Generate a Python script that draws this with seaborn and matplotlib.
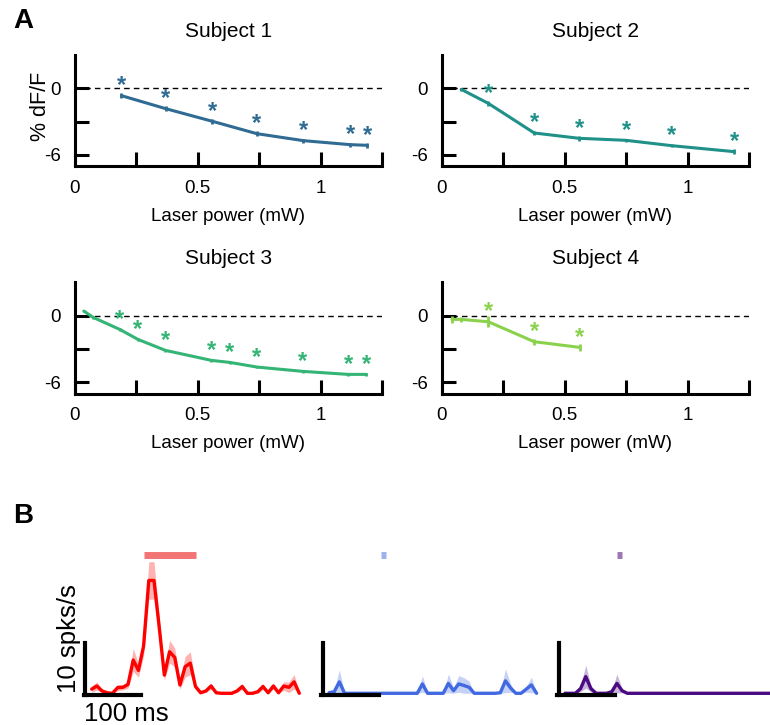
import numpy as np
import pandas as pd
import matplotlib
matplotlib.use("Agg")
import matplotlib.pyplot as plt
import seaborn as sns

# ---------------- Panel A data ----------------
subjects = ["Subject 1", "Subject 2", "Subject 3", "Subject 4"]
colors_A = ["#2f6b93", "#1f9189", "#34b475", "#8bd24c"]

s1_power = [0.19, 0.37, 0.56, 0.74, 0.93, 1.12, 1.19]
s1_dff = [-0.66, -1.83, -2.97, -4.08, -4.71, -5.07, -5.13]
s1_err = [0.2, 0.2, 0.2, 0.2, 0.18, 0.18, 0.2]
s1_sig = [1, 1, 1, 1, 1, 1, 1]

s2_power = [0.08, 0.19, 0.377, 0.56, 0.75, 0.935, 1.19]
s2_dff = [-0.09, -1.35, -4.02, -4.50, -4.68, -5.16, -5.70]
s2_err = [0.15, 0.2, 0.2, 0.2, 0.15, 0.15, 0.2]
s2_sig = [0, 1, 1, 1, 1, 1, 1]

s3_power = [0.037, 0.075, 0.183, 0.257, 0.369, 0.556, 0.63, 0.741, 0.928, 1.112, 1.186]
s3_dff = [0.42, -0.15, -1.23, -2.13, -3.12, -4.02, -4.20, -4.62, -5.01, -5.28, -5.28]
s3_err = [0.1, 0.1, 0.12, 0.12, 0.12, 0.12, 0.1, 0.1, 0.1, 0.1, 0.12]
s3_sig = [0, 0, 1, 1, 1, 1, 1, 1, 1, 1, 1]

s4_power = [0.043, 0.08, 0.19, 0.377, 0.562]
s4_dff = [-0.33, -0.33, -0.54, -2.34, -2.85]
s4_err = [0.33, 0.2, 0.5, 0.27, 0.35]
s4_sig = [0, 0, 1, 1, 1]

x_ticks = [0, 0.25, 0.5, 0.75, 1.0, 1.25]
x_ticklabels = ["0", "", "0.5", "", "1", ""]
y_ticks = [0, -3, -6]
y_ticklabels = ["0", "", "-6"]

# ---------------- Panel B data ----------------
bin_ms = 9
time_ms = np.arange(41) * bin_ms - 90

red_rate = [0.8, 1.4, 0.45, 0.1, 0, 1.1, 1.15, 1.7, 6.4, 4.4, 9.1, 21.7, 21.7, 12.8, 3.5,
            8.0, 6.9, 1.6, 5.1, 5.8, 1.3, 0.1, 0.45, 1.4, 0.1, 0, 0, 0, 0.45, 1.3,
            0, 0, 0.3, 1.3, 0.1, 1.4, 0.1, 1.4, 1.15, 2.2, 0]
red_sem = [0.6, 0.8, 0.3, 0.2, 0.2, 0.6, 0.5, 0.7, 2.2, 1.3, 1.8, 3.6, 3.6, 2.0, 1.0,
           2.2, 1.8, 0.8, 2.0, 2.2, 0.6, 0.2, 0.3, 0.6, 0.2, 0, 0, 0, 0.3, 0.6,
           0.1, 0.1, 0.3, 0.6, 0.2, 0.6, 0.3, 0.8, 1.0, 1.4, 0.2]

blue_rate = [0.1, 0.3, 2.2, 0, 0, 0, 0, 0, 0, 0, 0, 0, 0, 0, 0,
             0, 0, 0, 1.8, 0, 0, 0, 0, 1.9, 0.5, 1.8, 1.5, 1.15, 0, 0,
             0, 0, 0, 0.1, 2.4, 1.0, 0, 0, 0.8, 1.6, 0]
blue_sem = [0.1, 0.3, 2.3, 0, 0, 0, 0, 0, 0, 0, 0, 0, 0, 0, 0,
            0, 0, 0, 1.6, 0, 0, 0, 0, 1.8, 0.6, 1.6, 1.5, 1.2, 0, 0,
            0, 0, 0, 0.1, 2.3, 0.8, 0, 0, 0.6, 1.5, 0]

purple_rate = [0, 0, 0, 0.9, 3.2, 0.9, 0, 0, 0, 0.3, 1.9, 0.5, 0, 0, 0,
               0, 0, 0, 0, 0, 0, 0, 0, 0, 0, 0, 0, 0, 0, 0,
               0, 0, 0, 0, 0, 0, 0, 0, 0, 0, 0]
purple_sem = [0, 0, 0, 0.6, 2.2, 0.6, 0, 0, 0, 0.2, 1.8, 0.4, 0, 0, 0,
              0, 0, 0, 0, 0, 0, 0, 0, 0, 0, 0, 0, 0, 0, 0,
              0, 0, 0, 0, 0, 0, 0, 0, 0, 0, 0]

line_colors_B = ["#ff0000", "#4169e1", "#4b0a82"]
stim_colors_B = ["#f27474", "#9db3ec", "#9c77b3"]
stim_windows = [(0, 90), (0, 8), (0, 8)]
scale_rate = 10
scale_ms = 100

# ---------------- Figure ----------------
sns.set_theme(style="white")
plt.rcParams["font.family"] = ["Liberation Sans", "DejaVu Sans"]
plt.rcParams["text.color"] = "black"
plt.rcParams["axes.labelcolor"] = "black"
plt.rcParams["xtick.color"] = "black"
plt.rcParams["ytick.color"] = "black"
plt.rcParams["axes.titlecolor"] = "black"

W, H = 770, 725
fig = plt.figure(figsize=(W / 100, H / 100), dpi=100)


def ax_at(left_px, top_px, w_px, h_px):
    return fig.add_axes([left_px / W, 1 - (top_px + h_px) / H, w_px / W, h_px / H])


panel_A = [
    (s1_power, s1_dff, s1_err, s1_sig),
    (s2_power, s2_dff, s2_err, s2_sig),
    (s3_power, s3_dff, s3_err, s3_sig),
    (s4_power, s4_dff, s4_err, s4_sig),
]
lefts = [74.7, 441.5, 74.7, 441.5]
tops = [55.0, 55.0, 282.4, 282.4]

for i, (pw, dff, err, sig) in enumerate(panel_A):
    ax = ax_at(lefts[i], tops[i], 307.5, 111.1)
    ax.set_facecolor("none")
    col = colors_A[i]
    df = pd.DataFrame({"power": pw, "dff": dff})
    ax.axhline(0, color="black", lw=1.0, ls=(0, (4, 3)), zorder=1)
    sns.lineplot(data=df, x="power", y="dff", color=col, lw=2.2, ax=ax, zorder=3)
    ax.errorbar(pw, dff, yerr=err, fmt="none", ecolor=col, elinewidth=2.0, capsize=0, zorder=3)
    for x, y, s in zip(pw, dff, sig):
        if s:
            ax.text(x, y + 0.9, "*", color=col, fontsize=17, ha="center", va="center",
                    fontweight="bold")
    ax.set_xlim(0, 1.25)
    ax.set_ylim(-7, 3)
    ax.set_xticks(x_ticks)
    ax.set_xticklabels(x_ticklabels)
    ax.set_yticks(y_ticks)
    ax.set_yticklabels(y_ticklabels)
    ax.tick_params(direction="in", length=10, width=2.2, labelsize=13.5, pad=10,
                   colors="black", left=True, bottom=True)
    sns.despine(ax=ax)
    for sp in ("left", "bottom"):
        ax.spines[sp].set_linewidth(2.2)
        ax.spines[sp].set_color("black")
    ax.set_xlabel("Laser power (mW)", fontsize=13.5, labelpad=8)
    ax.set_title(subjects[i], fontsize=15, pad=13)
    ax.set_ylabel("")
    if i == 0:
        ax.text(-0.11, 0.54, "% dF/F", rotation=90, ha="center", va="center",
                fontsize=15.5, transform=ax.transAxes)

fig.text(13 / W, 1 - 21 / H, "A", fontsize=20, fontweight="bold", va="center", ha="left")
fig.text(13 / W, 1 - 516 / H, "B", fontsize=20, fontweight="bold", va="center", ha="left")

# ---------------- Panel B ----------------
px_per_ms = 5.19 / bin_ms
px_per_rate = 5.2
xlim_B = (-150, 290)
ylim_B = (-3, 30)
trace_start_px = [91.7, 329.0, 565.0]
baseline_px = 693.3
rates = [red_rate, blue_rate, purple_rate]
sems = [red_sem, blue_sem, purple_sem]

for j in range(3):
    left_px = trace_start_px[j] - (time_ms[0] - xlim_B[0]) * px_per_ms
    top_px = baseline_px - ylim_B[1] * px_per_rate
    axb = ax_at(left_px, top_px, (xlim_B[1] - xlim_B[0]) * px_per_ms,
                (ylim_B[1] - ylim_B[0]) * px_per_rate)
    axb.set_facecolor("none")
    r = np.array(rates[j])
    e = np.array(sems[j])
    axb.fill_between(time_ms, np.clip(r - e, 0, None), r + e, color=line_colors_B[j],
                     alpha=0.3, lw=0)
    dfb = pd.DataFrame({"t": time_ms, "rate": r})
    sns.lineplot(data=dfb, x="t", y="rate", color=line_colors_B[j], lw=2.4, ax=axb)
    s0, s1 = stim_windows[j]
    axb.plot([s0, s1], [26.6, 26.6], color=stim_colors_B[j], lw=5, solid_capstyle="butt")
    # scale bars
    axb.plot([-104, -104 + scale_ms], [-0.4, -0.4], color="black", lw=3, solid_capstyle="projecting")
    axb.plot([-101, -101], [-0.4, -0.4 + scale_rate], color="black", lw=3, solid_capstyle="projecting")
    if j == 0:
        axb.text(-104, -1.6, "100 ms", fontsize=18.5, ha="left", va="top", clip_on=False)
        axb.text(-130, 10.5, "10 spks/s", fontsize=18.5, rotation=90, ha="center",
                 va="center", clip_on=False)
    axb.set_xlim(*xlim_B)
    axb.set_ylim(*ylim_B)
    axb.axis("off")

fig.savefig("out.png", dpi=100)
